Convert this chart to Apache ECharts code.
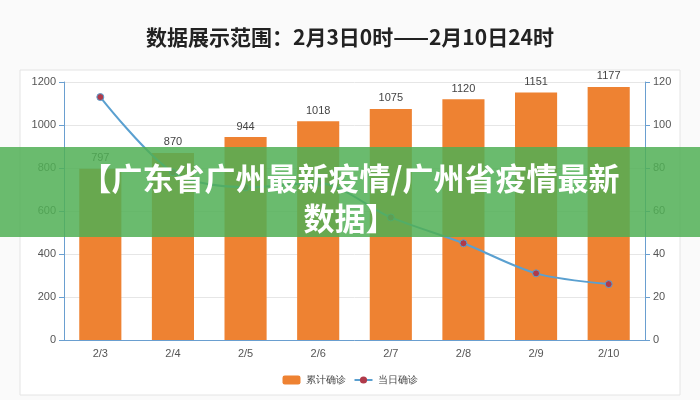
<!DOCTYPE html>
<html>
<head>
<meta charset="utf-8">
<script src="https://cdn.jsdelivr.net/npm/echarts@6/dist/echarts.min.js"></script>
<style>
  body { margin: 0; background: #fafafa; }
  #main { width: 700px; height: 400px; }
</style>
</head>
<body>
<div id="main"></div>
<script>
var dates = ['2/3', '2/4', '2/5', '2/6', '2/7', '2/8', '2/9', '2/10'];
var totalCases = [797, 870, 944, 1018, 1075, 1120, 1151, 1177];
var dailyCases = [113, 78, 71, 73, 57, 45, 31, 26];

var chart = echarts.init(document.getElementById('main'));
chart.setOption({
    backgroundColor: '#fafafa',
    title: {
        text: '数据展示范围：2月3日0时——2月10日24时',
        left: 'center',
        top: 22,
        textStyle: { fontSize: 21, fontWeight: 'bold', color: '#222', fontFamily: 'Noto Sans CJK SC' }
    },
    graphic: [
        {
            type: 'rect', z: -1,
            shape: { x: 20, y: 70, width: 660, height: 325 },
            style: { fill: '#fff', stroke: '#e4e4e4' }
        },
        {
            type: 'rect', z: 100,
            shape: { x: 0, y: 147, width: 700, height: 90 },
            style: { fill: 'rgba(80,175,85,0.85)' }
        },
        {
            type: 'text', z: 101, x: 350, y: 158,
            style: {
                text: '【广东省广州最新疫情/广州省疫情最新\n数据】',
                fill: '#fff', fontSize: 31, fontWeight: 'bold', lineHeight: 40,
                align: 'center', fontFamily: 'Noto Sans CJK SC'
            }
        }
    ],
    legend: {
        bottom: 10,
        itemWidth: 18, itemHeight: 9,
        textStyle: { fontSize: 10, color: '#444' },
        data: ['累计确诊', '当日确诊']
    },
    grid: { left: 64, right: 55, top: 82, bottom: 60 },
    xAxis: {
        type: 'category',
        data: dates,
        axisLine: { lineStyle: { color: '#6a9fd0' } },
        axisTick: { lineStyle: { color: '#6a9fd0' } },
        axisLabel: { color: '#555', fontSize: 11 }
    },
    yAxis: [
        {
            type: 'value', min: 0, max: 1200, interval: 200,
            axisLine: { show: true, lineStyle: { color: '#6a9fd0' } },
            axisTick: { show: true },
            axisLabel: { color: '#555', fontSize: 11, formatter: function (v) { return String(v); } },
            splitLine: { lineStyle: { color: '#e6e6e6' } }
        },
        {
            type: 'value', min: 0, max: 120, interval: 20,
            axisLine: { show: true, lineStyle: { color: '#6a9fd0' } },
            axisTick: { show: true },
            axisLabel: { color: '#555', fontSize: 11, formatter: function (v) { return String(v); } },
            splitLine: { show: false }
        }
    ],
    series: [
        {
            name: '累计确诊',
            type: 'bar',
            barWidth: '58%',
            data: totalCases,
            itemStyle: { color: '#ee8232' },
            label: { show: true, position: 'top', color: '#444', fontSize: 11 }
        },
        {
            name: '当日确诊',
            type: 'line',
            yAxisIndex: 1,
            data: dailyCases,
            smooth: 0.3,
            symbol: 'circle',
            symbolSize: 7,
            lineStyle: { color: '#5aa0d0', width: 2 },
            itemStyle: { color: '#b03a4a', borderColor: '#5aa0d0' }
        }
    ]
});
</script>
</body>
</html>
